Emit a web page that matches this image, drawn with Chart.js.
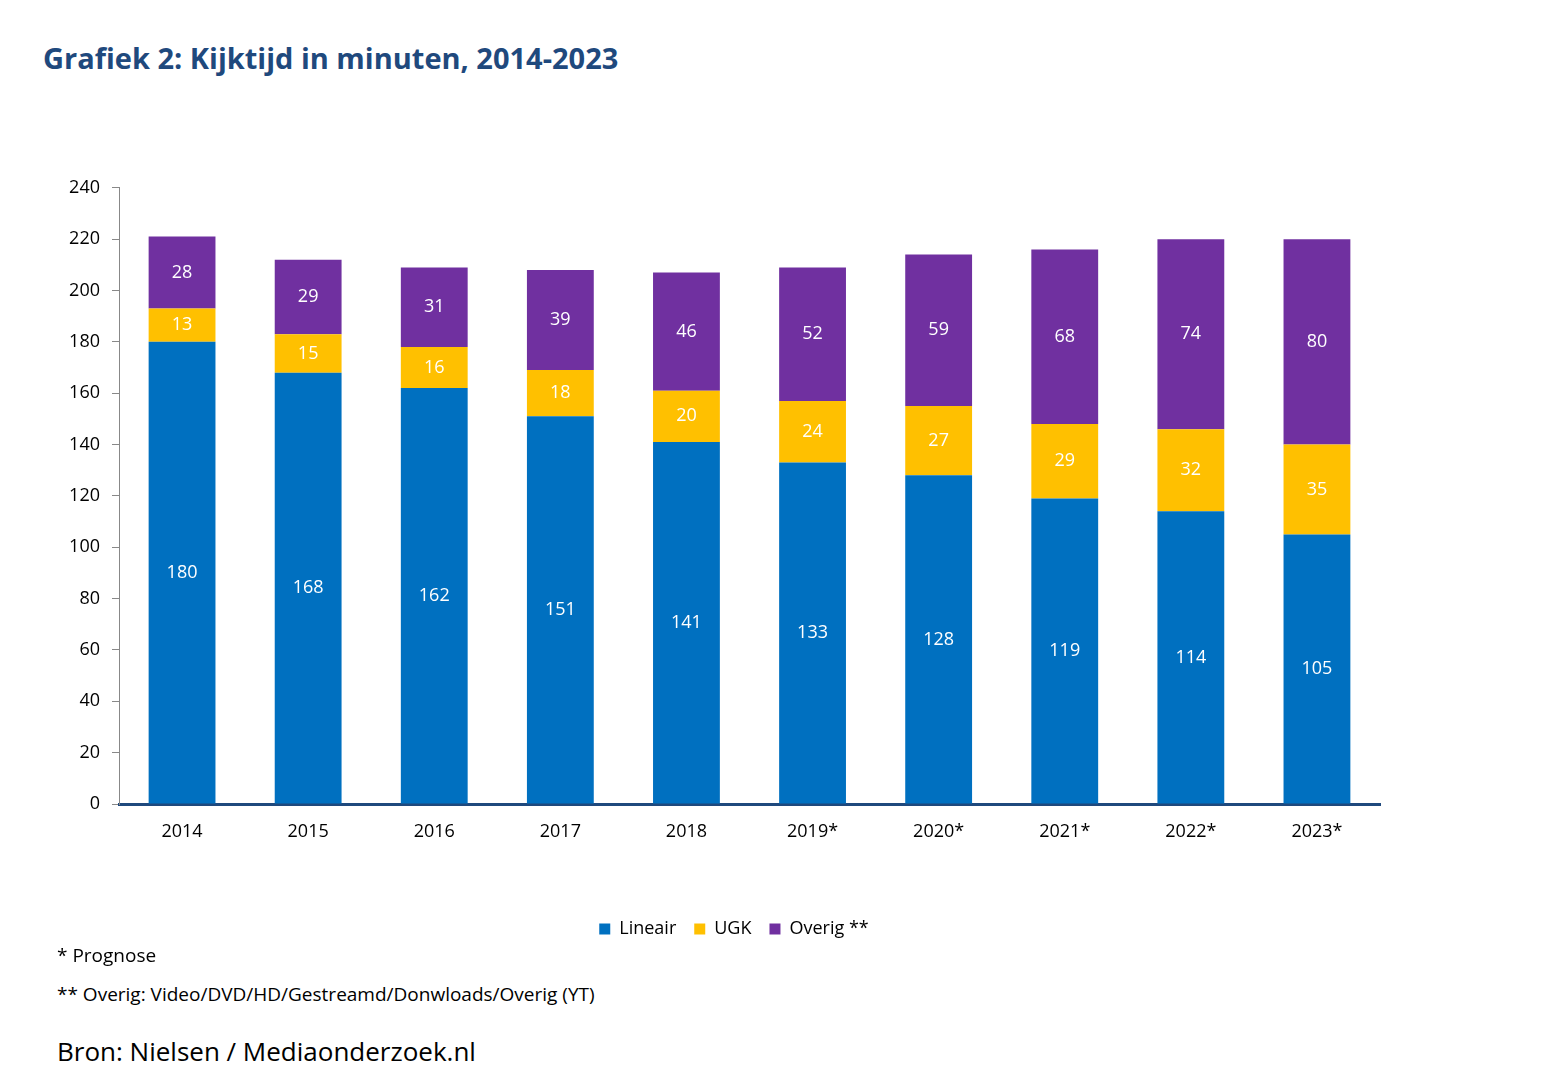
<!DOCTYPE html>
<html>
<head>
<meta charset="utf-8">
<script src="https://cdn.jsdelivr.net/npm/chart.js@4.4.1/dist/chart.umd.min.js"></script>
<style>
  body { margin: 0; background: #fff; font-family: "Open Sans", sans-serif; }
  #page { position: relative; width: 1547px; height: 1089px; }
  #title { position: absolute; left: 43px; top: 38px; font-size: 29px; font-weight: bold; color: #1F497D; }
  #wrap { position: absolute; left: 50px; top: 165px; width: 1400px; height: 783px; }
  .note { position: absolute; left: 57px; font-size: 19px; color: #000; }
</style>
</head>
<body>
<div id="page">
  <div id="title">Grafiek 2: Kijktijd in minuten, 2014-2023</div>
  <div id="wrap"><canvas id="chart"></canvas></div>
  <div class="note" style="top:942px">* Prognose</div>
  <div class="note" style="top:981px">** Overig: Video/DVD/HD/Gestreamd/Donwloads/Overig (YT)</div>
  <div class="note" style="top:1033px; font-size:26px">Bron: Nielsen / Mediaonderzoek.nl</div>
</div>
<script>
const years = ["2014", "2015", "2016", "2017", "2018", "2019*", "2020*", "2021*", "2022*", "2023*"];
const lineair = [180, 168, 162, 151, 141, 133, 128, 119, 114, 105];
const ugk = [13, 15, 16, 18, 20, 24, 27, 29, 32, 35];
const overig = [28, 29, 31, 39, 46, 52, 59, 68, 74, 80];
const yTicks = [0, 20, 40, 60, 80, 100, 120, 140, 160, 180, 200, 220, 240];

// white value labels in the middle of each segment
const barLabels = {
    id: "barLabels",
    afterDatasetsDraw(chart) {
        const ctx = chart.ctx;
        ctx.save();
        ctx.fillStyle = "#ffffff";
        ctx.font = "18px 'Open Sans', sans-serif";
        ctx.textAlign = "center";
        ctx.textBaseline = "middle";
        chart.data.datasets.forEach((ds, i) => {
            chart.getDatasetMeta(i).data.forEach((bar, j) => {
                const mid = (bar.y + bar.base) / 2;
                ctx.fillText(ds.data[j], bar.x, mid);
            });
        });
        ctx.restore();
    }
};

// nudge legend a bit to the right
const legendShift = {
    id: "legendShift",
    afterLayout(chart) {
        chart.legend.left += 19;
        chart.legend.right += 19;
    }
};

new Chart(document.getElementById("chart"), {
    type: "bar",
    plugins: [barLabels, legendShift],
    data: {
        labels: years,
        datasets: [
            {label: "Lineair", data: lineair, backgroundColor: "#0070C0"},
            {label: "UGK", data: ugk, backgroundColor: "#FFC000"},
            {label: "Overig **", data: overig, backgroundColor: "#7030A0"},
        ],
    },
    options: {
        responsive: true,
        maintainAspectRatio: false,
        animation: false,
        layout: {padding: {top: 8, right: 70}},
        datasets: {bar: {barPercentage: 0.53, categoryPercentage: 1}},
        scales: {
            x: {
                stacked: true,
                grid: {display: false},
                border: {color: "#1F497D", width: 3},
                ticks: {color: "#000", font: {size: 18, family: "Open Sans"}, padding: 9},
                afterFit: (s) => { s.height = 98; },
            },
            y: {
                stacked: true,
                min: 0,
                max: 240,
                afterBuildTicks: (s) => { s.ticks = yTicks.map(v => ({value: v})); },
                grid: {drawOnChartArea: false, drawTicks: true, tickLength: 7, color: "#888"},
                border: {color: "#888", width: 1},
                ticks: {color: "#000", font: {size: 18, family: "Open Sans"}, padding: 12},
                afterFit: (s) => { s.width = 69; },
            },
        },
        plugins: {
            tooltip: {enabled: false},
            legend: {
                position: "bottom",
                labels: {
                    color: "#000",
                    font: {size: 18, family: "Open Sans"},
                    boxWidth: 11,
                    boxHeight: 11,
                    padding: 18,
                },
            },
        },
    },
});
</script>
</body>
</html>
